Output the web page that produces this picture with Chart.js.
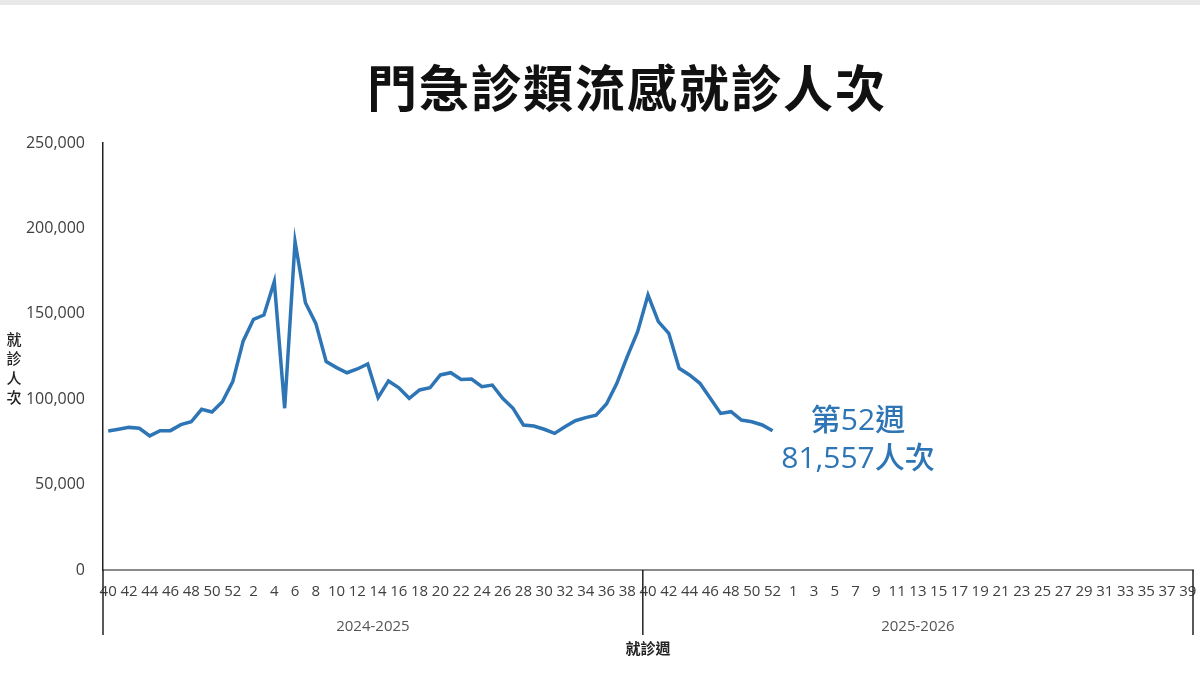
<!DOCTYPE html>
<html lang="zh-Hant">
<head>
<meta charset="utf-8">
<title>門急診類流感就診人次</title>
<script src="https://cdn.jsdelivr.net/npm/chart.js@4.4.1/dist/chart.umd.min.js"></script>
<style>
  html, body { margin: 0; padding: 0; background: #fff; }
  #wrap { position: relative; width: 1200px; height: 675px; }
  #topbar { position: absolute; left: 0; top: 0; width: 1200px; height: 5px; background: #e9e9e9; }
  canvas { display: block; }
</style>
</head>
<body>
<div id="wrap">
  <canvas id="fluChart" width="1200" height="675"></canvas>
  <div id="topbar"></div>
</div>
<script>
// 週次 (兩個流感季)
const weeks2024 = [40, 41, 42, 43, 44, 45, 46, 47, 48, 49, 50, 51, 52,
  1, 2, 3, 4, 5, 6, 7, 8, 9, 10, 11, 12, 13, 14, 15, 16, 17, 18, 19, 20,
  21, 22, 23, 24, 25, 26, 27, 28, 29, 30, 31, 32, 33, 34, 35, 36, 37, 38, 39];
const weeks2025 = [40, 41, 42, 43, 44, 45, 46, 47, 48, 49, 50, 51, 52, 53,
  1, 2, 3, 4, 5, 6, 7, 8, 9, 10, 11, 12, 13, 14, 15, 16, 17, 18, 19, 20,
  21, 22, 23, 24, 25, 26, 27, 28, 29, 30, 31, 32, 33, 34, 35, 36, 37, 38, 39];
const seasons = ['2024-2025', '2025-2026'];

// 就診人次
const visits2024 = [81400, 82400, 83500, 83000, 78500, 81600, 81600, 85100, 86800, 94100,
  92500, 98500, 110300, 134000, 146800, 149300, 168800, 94700, 192200, 156500,
  144400, 122000, 118500, 115500, 117700, 120600, 100900, 110700, 106700, 100500,
  105400, 106700, 114200, 115500, 111600, 111800, 107300, 108300, 100500, 94700,
  84900, 84300, 82400, 80000, 83900, 87400, 89200, 90700, 97200, 109300,
  124900, 139500];
const visits2025 = [161000, 145400, 138600, 118100, 114200, 109300, 100500, 91700,
  92700, 87800, 86800, 84900, 81557];

const yTicks = [0, 50000, 100000, 150000, 200000, 250000];

const labels = weeks2024.concat(weeks2025).map(String);
const values = visits2024.concat(visits2025);

const TITLE = '門急診類流感就診人次';
const FONT = "'Open Sans', 'Noto Sans CJK TC', sans-serif";
const CJK = "'Noto Sans CJK TC', sans-serif";
const BLUE = '#2E75B6';

// 標題、季別分隔線、季別文字、縱軸標題與最後一週註記
const extras = {
  id: 'extras',
  afterDraw(chart) {
    const c = chart.ctx;
    const x = chart.scales.x;
    const n1 = weeks2024.length;
    const mid = (x.getPixelForValue(n1 - 1) + x.getPixelForValue(n1)) / 2;
    const bounds = [x.left, mid, x.right];
    c.save();
    c.textAlign = 'center';
    c.textBaseline = 'middle';

    // 主標題
    c.fillStyle = '#111';
    c.font = 'bold 50px ' + CJK;
    c.letterSpacing = '2px';
    c.fillText(TITLE, 627, 88);
    c.letterSpacing = '0px';

    c.strokeStyle = '#222';
    c.lineWidth = 1.5;
    bounds.forEach(b => {
      c.beginPath();
      c.moveTo(b, x.top);
      c.lineTo(b, x.top + 65);
      c.stroke();
    });
    c.fillStyle = '#555';
    c.font = '15px ' + FONT;
    c.fillText(seasons[0], (bounds[0] + bounds[1]) / 2, x.top + 57);
    c.fillText(seasons[1], (bounds[1] + bounds[2]) / 2, x.top + 57);

    // 縱軸標題 直排
    c.fillStyle = '#222';
    c.font = '500 15px ' + CJK;
    '就診人次'.split('').forEach((ch, i) => c.fillText(ch, 14, 339 + i * 19.5));

    // 最後一週
    const last = values.length - 1;
    c.fillStyle = BLUE;
    c.font = '500 30px ' + FONT;
    c.fillText('第' + labels[last] + '週', 858, 421);
    c.fillText(values[last].toLocaleString('en-US') + '人次', 858, 459);
    c.restore();
  }
};

new Chart(document.getElementById('fluChart'), {
  type: 'line',
  data: {
    labels: labels,
    datasets: [{
      data: values,
      borderColor: BLUE,
      borderWidth: 3.5,
      pointRadius: 0,
      tension: 0,
      fill: false
    }]
  },
  options: {
    responsive: false,
    animation: false,
    devicePixelRatio: 1,
    layout: { padding: { left: 0, right: 7, top: 143, bottom: 0 } },
    plugins: {
      legend: { display: false },
      tooltip: { enabled: false },
      title: { display: false }
    },
    scales: {
      x: {
        type: 'category',
        offset: true,
        grid: { display: false },
        border: { display: true, color: '#8a8a8a', width: 2 },
        ticks: {
          autoSkip: false,
          maxRotation: 0,
          minRotation: 0,
          padding: 5,
          color: '#404040',
          font: { family: FONT, size: 15 },
          callback: (v, i) => (i % 2 === 0 ? labels[i] : '')
        },
        title: {
          display: true,
          text: '就診週',
          color: '#222',
          font: { family: FONT, size: 15, weight: 'bold' },
          padding: { top: 0, bottom: 16 }
        },
        afterFit: s => { s.height = 105; s.paddingLeft = 0; s.paddingRight = 0; }
      },
      y: {
        min: yTicks[0],
        max: yTicks[yTicks.length - 1],
        grid: { display: false },
        border: { display: true, color: '#222', width: 1.5 },
        afterBuildTicks: s => { s.ticks = yTicks.map(v => ({ value: v })); },
        ticks: {
          padding: 10,
          color: '#404040',
          font: { family: FONT, size: 16 },
          callback: v => v.toLocaleString('en-US')
        },
        afterFit: s => { s.width = 103; }
      }
    }
  },
  plugins: [extras]
});
</script>
</body>
</html>
